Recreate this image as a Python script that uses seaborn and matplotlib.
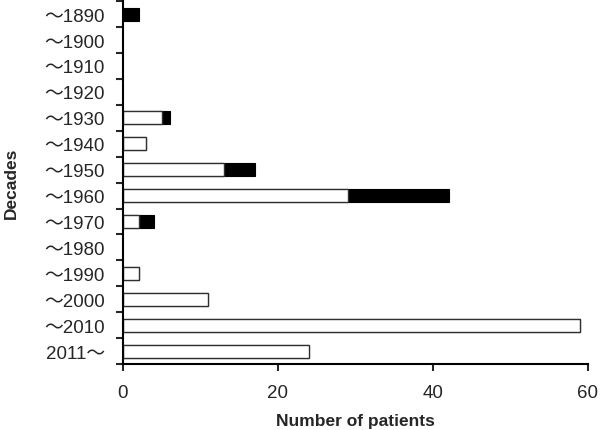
import numpy as np
import pandas as pd
import matplotlib
matplotlib.use("Agg")
import matplotlib.pyplot as plt
import seaborn as sns

decades = ['～1890', '～1900', '～1910', '～1920', '～1930', '～1940', '～1950',
           '～1960', '～1970', '～1980', '～1990', '～2000', '～2010', '2011～']
white_vals = [0, 0, 0, 0, 5, 3, 13, 29, 2, 0, 2, 11, 59, 24]
black_vals = [2, 0, 0, 0, 1, 0, 4, 13, 2, 0, 0, 0, 0, 0]

df = pd.DataFrame({'Decade': decades, 'white': white_vals, 'black': black_vals})
df['total'] = df['white'] + df['black']

sns.set_style('white')
plt.rcParams['font.family'] = ['Liberation Sans', 'Noto Sans CJK JP', 'DejaVu Sans']

fig = plt.figure(figsize=(6, 4.31), dpi=100)
ax = fig.add_axes([0.205, 0.153, 0.775, 0.842])

sns.barplot(data=df, y='Decade', x='total', orient='h', color='black',
            edgecolor='black', linewidth=0.8, width=0.5, saturation=1, ax=ax)
sns.barplot(data=df, y='Decade', x='white', orient='h', color='white',
            edgecolor='#303030', linewidth=1.0, width=0.5, saturation=1, ax=ax)

# no mark for empty bars
for p in ax.patches:
    if p.get_width() == 0:
        p.set_visible(False)

ax.set_xlim(0, 60)
ax.set_ylim(len(decades) - 0.5, -0.5)
ax.set_xticks([0, 20, 40, 60])
ax.set_yticks(np.arange(-0.5, len(decades) + 0.5, 1), minor=True)

for s in ['top', 'right']:
    ax.spines[s].set_visible(False)
for s in ['left', 'bottom']:
    ax.spines[s].set_linewidth(1.5)
    ax.spines[s].set_color('black')

ax.tick_params(axis='y', which='major', length=0, labelsize=13.5, pad=13)
ax.tick_params(axis='y', which='minor', left=True, length=5, width=1.5, direction='out')
ax.tick_params(axis='x', which='major', bottom=True, length=5, width=1.5,
               direction='out', labelsize=13.5, pad=9)

ax.set_xlabel('Number of patients', fontsize=12.5, fontweight='bold', labelpad=9)
ax.set_ylabel('Decades', fontsize=12.5, fontweight='bold', labelpad=18)

fig.savefig('out.png', dpi=100)
